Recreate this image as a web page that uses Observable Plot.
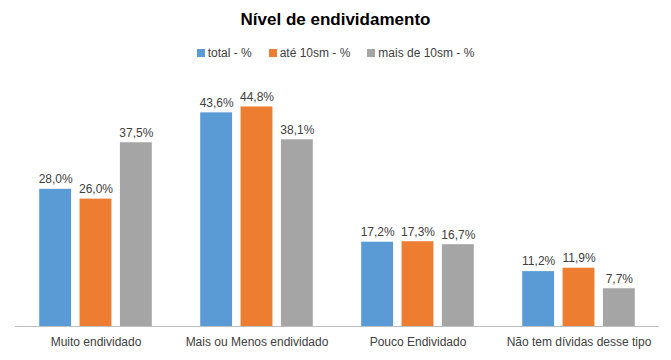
<!DOCTYPE html>
<html>
<head>
<meta charset="utf-8">
<script src="https://cdn.jsdelivr.net/npm/d3@7"></script>
<script src="https://cdn.jsdelivr.net/npm/@observablehq/plot@0.6"></script>
<style>
  body { margin: 0; background: #fff; font-family: "Liberation Sans", Arial, sans-serif; }
  #wrap { width: 671px; height: 360px; position: relative; }
  #title { position: absolute; top: 10px; left: 0; width: 671px; text-align: center; font-weight: bold; font-size: 17px; color: #000; }
  #legend { position: absolute; top: 46px; left: 0; width: 671px; display: flex; justify-content: center; gap: 17px; font-size: 12px; color: #404040; }
  #legend span.item { display: flex; align-items: center; }
  #legend span.sw { display: inline-block; width: 8px; height: 8px; margin-right: 3px; }
  #chart { position: absolute; top: 70px; left: 0; }
</style>
</head>
<body>
<div id="wrap">
  <div id="title">Nível de endividamento</div>
  <div id="legend"></div>
  <div id="chart"></div>
</div>
<script>
const categories = ["Muito endividado", "Mais ou Menos endividado", "Pouco Endividado", "Não tem dívidas desse tipo"];
const seriesNames = ["total - %", "até 10sm - %", "mais de 10sm - %"];
const seriesColors = ["#5B9BD5", "#ED7D31", "#A5A5A5"];
const totalValues = [28.0, 43.6, 17.2, 11.2];
const ate10Values = [26.0, 44.8, 17.3, 11.9];
const mais10Values = [37.5, 38.1, 16.7, 7.7];

const seriesValues = [totalValues, ate10Values, mais10Values];
const data = [];
categories.forEach((c, i) => {
  seriesNames.forEach((s, j) => {
    data.push({category: c, series: s, value: seriesValues[j][i]});
  });
});

const legend = document.getElementById("legend");
seriesNames.forEach((s, j) => {
  const item = document.createElement("span");
  item.className = "item";
  const sw = document.createElement("span");
  sw.className = "sw";
  sw.style.background = seriesColors[j];
  item.appendChild(sw);
  item.appendChild(document.createTextNode(s));
  legend.appendChild(item);
});

const fmt = d => d.toFixed(1).replace(".", ",") + "%";

const chart = Plot.plot({
  width: 671,
  height: 290,
  marginLeft: 13,
  marginRight: 11,
  marginTop: 11,
  marginBottom: 34,
  style: {fontFamily: "Liberation Sans, Arial, sans-serif", fontSize: "12px", color: "#404040"},
  fx: {domain: categories, padding: 0, label: null, axis: "bottom", tickSize: 0, tickPadding: 11},
  x: {domain: seriesNames, paddingInner: 0.21, paddingOuter: 0.6, round: false, axis: null},
  y: {domain: [0, 50], axis: null},
  color: {domain: seriesNames, range: seriesColors},
  marks: [
    Plot.barY(data, {fx: "category", x: "series", y: "value", fill: "series"}),
    Plot.text(data, {fx: "category", x: "series", y: "value", text: d => fmt(d.value), dy: -10, fill: "#404040", fontSize: 12}),
    Plot.ruleY([0], {stroke: "#BFBFBF", strokeWidth: 1})
  ]
});
document.getElementById("chart").appendChild(chart);
</script>
</body>
</html>
